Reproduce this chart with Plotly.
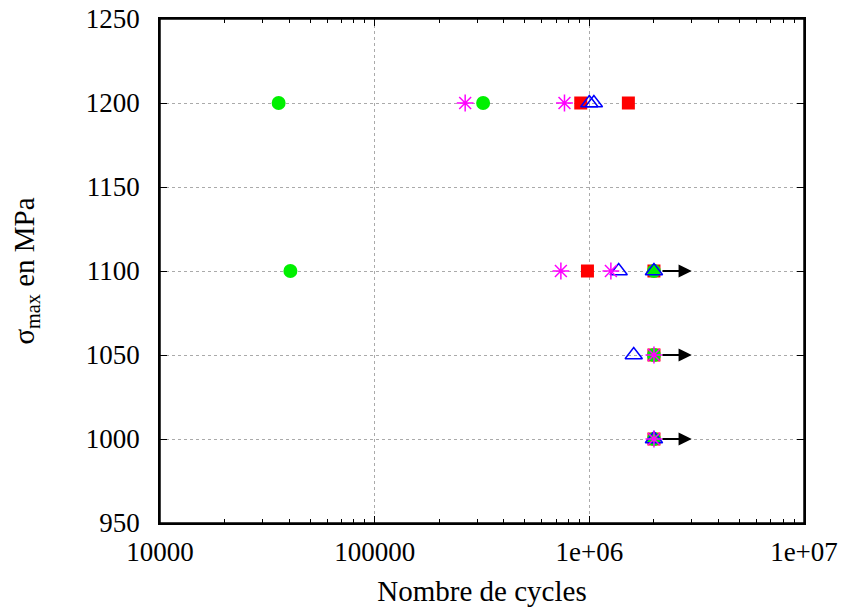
import numpy as np
import plotly.graph_objects as go

# ---- data ----
red_cycles = [912000, 1520000, 980000, 2000000, 2000000, 2000000]
red_stress = [1200, 1200, 1100, 1100, 1050, 1000]

green_cycles = [35700, 320000, 40500, 2000000, 2000000, 2000000]
green_stress = [1200, 1200, 1100, 1100, 1050, 1000]

blue_cycles = [1000000, 1050000, 1370000, 2000000, 1610000, 2000000]
blue_stress = [1200, 1200, 1100, 1100, 1050, 1000]

magenta_cycles = [264000, 766000, 737000, 1260000, 2000000, 2000000]
magenta_stress = [1200, 1200, 1100, 1100, 1050, 1000]

runout_start = [2000000, 2000000, 2000000]
runout_end = [3000000, 3000000, 3000000]
runout_stress = [1100, 1050, 1000]

x_tickvals = [1e4, 1e5, 1e6, 1e7]
x_ticktext = ["10000", "100000", "1e+06", "1e+07"]
y_tickvals = [950, 1000, 1050, 1100, 1150, 1200, 1250]

FONT = "Liberation Serif"
FS = 27
FT = 29

fig = go.Figure()
fig.add_trace(go.Scatter(x=red_cycles, y=red_stress, mode="markers",
                         marker=dict(symbol="square", size=13, color="#ff0000"),
                         showlegend=False))
fig.add_trace(go.Scatter(x=green_cycles, y=green_stress, mode="markers",
                         marker=dict(symbol="circle", size=14, color="#00f000"),
                         showlegend=False))
fig.add_trace(go.Scatter(x=blue_cycles, y=blue_stress, mode="markers",
                         marker=dict(symbol="triangle-up-open", size=15, color="#0000ff",
                                     line=dict(width=1.5, color="#0000ff")),
                         showlegend=False))
fig.add_trace(go.Scatter(x=magenta_cycles, y=magenta_stress, mode="markers",
                         marker=dict(symbol="asterisk-open", size=14, color="#ff00ff",
                                     line=dict(width=1.5, color="#ff00ff")),
                         showlegend=False))

for xs, xe, s in zip(runout_start, runout_end, runout_stress):
    fig.add_annotation(x=np.log10(xe), y=s, ax=np.log10(xs), ay=s,
                       xref="x", yref="y", axref="x", ayref="y",
                       showarrow=True, arrowhead=2, arrowsize=1.2, arrowwidth=2.2,
                       arrowcolor="black", text="", startstandoff=7)

# plot frame
fig.add_shape(type="rect", xref="paper", yref="paper", x0=0, y0=0, x1=1, y1=1,
              line=dict(color="black", width=1.5), layer="above")

minor_vals = [m * 10 ** d for d in range(4, 7) for m in range(2, 10)]

fig.update_layout(
    width=830, height=600,
    margin=dict(l=152, r=34, t=11, b=85, autoexpand=False),
    paper_bgcolor="white", plot_bgcolor="white",
    font=dict(family=FONT, size=FS, color="black"),
    xaxis=dict(type="log", range=[4, 7], tickvals=x_tickvals, ticktext=x_ticktext,
               automargin=False, ticklabeloverflow="allow",
               showline=True, linecolor="black", linewidth=1.5, mirror="ticks",
               ticks="inside", ticklen=7, tickcolor="black",
               ticklabelstandoff=4,
               showgrid=True, gridcolor="#aaaaaa", griddash="dot", gridwidth=1,
               minor=dict(tickvals=minor_vals, ticks="inside", ticklen=4,
                          tickcolor="black", showgrid=False),
               zeroline=False,
               title=dict(text="Nombre de cycles", standoff=15,
                          font=dict(family=FONT, size=FT)),
               tickfont=dict(family=FONT, size=FS)),
    yaxis=dict(range=[950, 1250], tickvals=y_tickvals,
               automargin=False, ticklabeloverflow="allow",
               showline=True, linecolor="black", linewidth=1.5, mirror="ticks",
               ticks="inside", ticklen=7, tickcolor="black",
               ticklabelstandoff=13,
               showgrid=True, gridcolor="#aaaaaa", griddash="dot", gridwidth=1,
               zeroline=False,
               title=dict(text="σ<sub>max</sub> en MPa", standoff=46,
                          font=dict(family=FONT, size=FT)),
               tickfont=dict(family=FONT, size=FS)),
)

fig.write_html("out.html")
